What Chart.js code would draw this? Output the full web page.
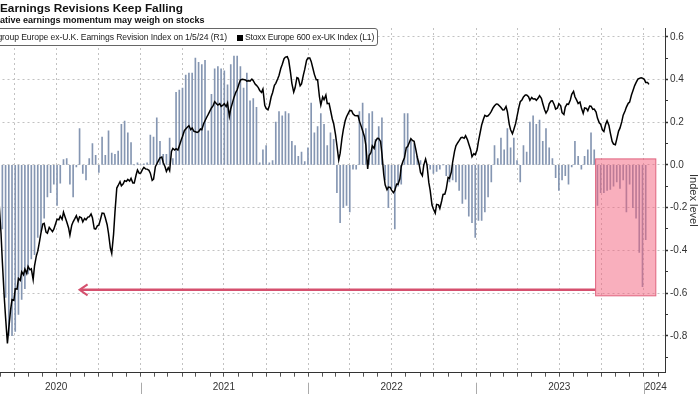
<!DOCTYPE html>
<html>
<head>
<meta charset="utf-8">
<script src="https://cdn.jsdelivr.net/npm/chart.js@4.4.1/dist/chart.umd.min.js"></script>
<style>
  html, body { margin: 0; padding: 0; background: #fff; width: 700px; height: 394px; overflow: hidden; }
  #wrap { position: relative; width: 700px; height: 394px; overflow: hidden; }
  #c { position: absolute; left: -40px; top: 0; }
  #title { position: absolute; left: 0; top: 1px; font: bold 11.8px "Liberation Sans", Arial, sans-serif; color: #111; white-space: nowrap; }
  #subtitle { position: absolute; left: -17px; top: 15px; font: bold 9px "Liberation Sans", Arial, sans-serif; color: #111; white-space: nowrap; }
  #legend { position: absolute; left: -27px; top: 28px; width: 403px; height: 16px; border: 1px solid #666; border-radius: 3px; background: #fff;
            font: 8.6px "Liberation Sans", Arial, sans-serif; letter-spacing: -0.2px; color: #222; line-height: 16px; white-space: nowrap; }
  #legend .item { position: absolute; top: 0; }
  #leg1 { right: 150px; letter-spacing: -0.1px; }
  #leg2 { left: 263px; }
  #legend .sw { display: inline-block; width: 6px; height: 6px; margin-right: 2px; vertical-align: -0.5px; }
</style>
</head>
<body>
<div id="wrap">
  <canvas id="c" width="740" height="394"></canvas>
  <div id="title">Earnings Revisions Keep Falling</div>
  <div id="subtitle">Negative earnings momentum may weigh on stocks</div>
  <div id="legend">
    <span class="item" id="leg1"><i class="sw" style="background:#8194b0"></i>Citigroup Europe ex-U.K. Earnings Revision Index on 1/5/24 (R1)</span>
    <span class="item" id="leg2"><i class="sw" style="background:#000"></i>Stoxx Europe 600 ex-UK Index (L1)</span>
  </div>
</div>
<script>
// weekly observations: Fridays starting 2020-01-03; the index line also has the Tuesday close after each Friday
const firstWeek = '2020-01-03';

// Citigroup Europe ex-U.K. Earnings Revision Index (R1), Fridays
const revision = [
  -0.04, -0.05, -0.06, -0.05, -0.04, -0.03, -0.05, -0.07, -0.12, -0.30,
  -0.62, -0.80, -0.80, -0.78, -0.70, -0.63, -0.58, -0.51, -0.44, -0.42,
  -0.34, -0.31, -0.25, -0.15, -0.13, -0.09, -0.19, -0.085, 0.025, 0.03,
  -0.09, -0.15, -0.01, 0.17, -0.04, -0.07, 0.03, 0.10, 0.045, -0.035,
  0.13, 0.045, 0.16, 0.055, 0.05, 0.065, 0.19, 0.205, 0.15, 0.105,
  0.0, 0.01, 0.0, 0.005, 0.01, 0.14, 0.13, 0.22, 0.11, 0.05,
  0.05, 0.125, 0.03, 0.34, 0.35, 0.36, 0.42, 0.43, 0.43, 0.50,
  0.48, 0.47, 0.49, 0.16, 0.33, 0.45, 0.46, 0.45, 0.44, 0.375,
  0.47, 0.51, 0.51, 0.46, 0.36, 0.43, 0.30, 0.31, 0.27, 0.01,
  0.07, 0.09, 0.01, 0.02, 0.20, 0.25, 0.23, 0.25, 0.24, 0.11,
  0.09, 0.04, 0.06, 0.015, 0.08, 0.29, 0.15, 0.18, 0.24, 0.19,
  0.09, 0.15, 0.12, -0.13, -0.27, -0.20, -0.19, -0.22, -0.02, -0.02,
  0.25, 0.29, 0.17, 0.24, 0.25, 0.12, 0.18, 0.22, -0.07, -0.20,
  -0.11, -0.30, -0.10, -0.09, 0.24, 0.24, 0.12, 0.10, 0.04, 0.02,
  0.0, 0.0, -0.02, -0.04, -0.03, -0.02, 0.0, -0.05, -0.08, -0.07,
  -0.08, -0.12, -0.18, -0.16, -0.24, -0.27, -0.34, -0.26, -0.26, -0.22,
  -0.15, -0.08, 0.09, 0.03, 0.125, 0.07, 0.17, 0.08, 0.125, 0.02,
  -0.08, 0.09, 0.06, 0.20, 0.23, 0.19, 0.21, 0.11, 0.17, 0.08,
  0.03, -0.06, -0.12, -0.07, -0.05, -0.09, -0.01, 0.11, 0.04, -0.02,
  0.04, 0.07, 0.15, 0.07, -0.19, -0.13, -0.13, -0.12, -0.115, -0.10,
  -0.08, -0.11, -0.07, -0.22, -0.09, -0.20, -0.25, -0.41, -0.57, -0.35
];

// Stoxx Europe 600 ex-UK Index (L1), Friday closes
const stoxxFri = [
  417, 420, 418, 421, 425, 427, 430, 426, 384, 340.4,
  299.0, 291.2, 312.4, 320.5, 328.2, 333.2, 335.2, 337.2, 335.4, 337.7,
  348.6, 362.3, 369.3, 362.0, 365.0, 365.0, 372.5, 374.7, 377.7, 370.5,
  360.6, 370.5, 375.0, 374.2, 370.5, 372.0, 374.2, 373.5, 365.0, 368.0,
  377.0, 373.5, 361.8, 346.9, 377.5, 397.6, 397.4, 401.1, 402.1, 402.9,
  399.4, 409.1, 406.8, 411.1, 409.8, 406.8, 402.4, 413.6, 418.3, 414.8,
  408.1, 408.6, 425.2, 425.0, 427.0, 434.2, 439.7, 442.2, 440.4, 437.7,
  437.7, 439.2, 445.9, 450.6, 455.4, 460.1, 457.6, 456.6, 458.6, 459.1,
  454.9, 463.3, 469.0, 476.2, 476.7, 475.5, 475.5, 475.8, 472.3, 468.5,
  469.5, 455.1, 457.1, 466.8, 473.8, 479.7, 487.9, 493.4, 491.2, 473.8,
  470.5, 477.5, 473.3, 484.2, 492.7, 490.2, 480.5, 476.5, 457.6, 461.6,
  458.6, 453.9, 443.7, 427.5, 421.5, 439.2, 448.9, 453.6, 451.1, 449.6,
  445.6, 438.4, 427.7, 420.0, 427.2, 430.5, 432.7, 421.3, 398.1, 396.4,
  394.1, 393.9, 398.4, 411.8, 418.3, 426.7, 432.5, 430.5, 418.5, 407.3,
  412.8, 413.1, 393.9, 380.0, 383.5, 380.5, 390.9, 395.1, 402.9, 415.3,
  427.2, 431.0, 433.5, 434.7, 428.5, 419.0, 420.5, 430.5, 442.7, 449.9,
  449.6, 452.9, 457.1, 458.3, 455.8, 454.1, 452.6, 439.2, 439.4, 449.1,
  460.1, 463.6, 465.1, 461.1, 462.1, 461.1, 464.6, 458.8, 451.6, 458.6,
  460.8, 454.6, 458.6, 451.9, 456.1, 458.1, 465.6, 463.8, 458.8, 455.6,
  455.4, 453.4, 456.8, 454.6, 447.9, 443.2, 437.9, 445.9, 436.9, 428.5,
  432.2, 440.4, 450.1, 456.1, 459.8, 468.0, 474.3, 477.5, 477.7, 474.5,
  473.0
];

// Stoxx Europe 600 ex-UK Index (L1), Tuesday closes (4 days after each Friday)
const stoxxTue = [
  418, 419, 420, 423, 426, 428, 429, 407, 362.3, 314.8,
  279.7, 305.1, 311.8, 320.3, 326.8, 331.0, 332.0, 334.7, 327.3, 345.2,
  356.1, 368.8, 362.8, 366.3, 363.1, 369.3, 372.0, 372.3, 373.5, 366.1,
  368.0, 373.0, 371.0, 373.5, 373.0, 374.0, 376.3, 365.3, 367.6, 373.0,
  376.8, 368.3, 350.9, 361.3, 395.7, 400.4, 398.9, 400.6, 400.9, 399.4,
  405.4, 406.6, 409.6, 409.9, 408.9, 401.4, 411.6, 416.3, 418.8, 411.6,
  410.8, 423.0, 424.0, 424.0, 431.3, 438.5, 441.2, 439.2, 438.0, 437.2,
  439.7, 443.7, 448.7, 453.4, 457.4, 458.6, 458.6, 457.6, 456.4, 449.2,
  459.6, 467.1, 473.5, 476.8, 476.3, 475.8, 477.0, 473.3, 470.6, 467.1,
  457.4, 454.1, 463.8, 472.3, 477.0, 485.0, 492.2, 493.7, 482.0, 467.3,
  478.0, 472.0, 480.0, 491.0, 492.7, 484.7, 476.5, 463.8, 463.6, 465.1,
  458.9, 447.2, 435.5, 416.6, 432.8, 445.9, 451.6, 453.4, 449.7, 449.7,
  441.7, 434.0, 409.9, 422.0, 425.3, 432.8, 430.5, 405.6, 394.4, 396.2,
  392.2, 398.6, 402.6, 415.8, 425.8, 430.0, 431.0, 424.0, 413.3, 404.9,
  417.3, 399.9, 383.0, 377.0, 383.2, 386.0, 391.2, 403.6, 407.6, 423.0,
  429.5, 433.2, 432.8, 431.8, 424.3, 421.3, 424.0, 437.5, 447.2, 449.2,
  451.2, 455.6, 458.4, 456.9, 453.9, 456.6, 443.4, 436.2, 443.9, 455.9,
  461.6, 465.1, 463.8, 463.3, 462.3, 462.8, 462.6, 454.1, 454.1, 460.6,
  457.9, 455.4, 457.1, 450.6, 458.4, 461.4, 467.8, 461.1, 459.9, 451.4,
  455.1, 456.9, 454.4, 452.4, 444.4, 438.9, 443.4, 442.4, 430.5, 428.0,
  438.2, 445.2, 453.1, 458.9, 465.1, 472.1, 477.0, 478.0, 476.8, 474.5
];

// axis labels
const yearLabels = ['2020', '2021', '2022', '2023', '2024'];
const yearLabelDates = ['2020-07-01', '2021-07-01', '2022-07-01', '2023-07-01', '2024-01-27'];
const yearStarts = ['2021-01-01', '2022-01-01', '2023-01-01', '2024-01-01'];
const rightTicks = [-0.9, -0.8, -0.7, -0.6, -0.5, -0.4, -0.3, -0.2, -0.1, 0, 0.1, 0.2, 0.3, 0.4, 0.5, 0.6];

// highlight box + arrow (in data units)
const boxFrom = '2023-09-18', boxTo = '2024-01-27', boxTop = 0.028, boxBottom = -0.613;
const arrowLevel = -0.585, arrowTip = '2020-08-21';

const DAY = 86400000;
const t0 = Date.parse(firstWeek);
const weekAt = i => t0 + i * 7 * DAY;

// merge Friday and Tuesday closes in date order
const stoxxPoints = [];
stoxxFri.forEach((v, i) => {
  stoxxPoints.push({ x: weekAt(i), y: v });
  if (i < stoxxTue.length) stoxxPoints.push({ x: weekAt(i) + 4 * DAY, y: stoxxTue[i] });
});

const labelAt = new Map(yearLabelDates.map((d, i) => [Date.parse(d), yearLabels[i]]));
const isMajor = v => Math.abs(Math.round(v * 10)) % 2 === 0;

const FONT = "'Liberation Sans Narrow', 'Liberation Sans', Arial, sans-serif";

const extras = {
  id: 'extras',
  afterDatasetsDraw(chart) {
    const { ctx, scales: { x, y } } = chart;
    const x1 = x.getPixelForValue(Date.parse(boxFrom));
    const x2 = x.getPixelForValue(Date.parse(boxTo));
    const y1 = y.getPixelForValue(boxTop);
    const y2 = y.getPixelForValue(boxBottom);
    ctx.save();
    // arrow
    const ay = y.getPixelForValue(arrowLevel);
    const ax = x.getPixelForValue(Date.parse(arrowTip));
    ctx.strokeStyle = '#d5506e';
    ctx.lineWidth = 2.5;
    ctx.beginPath();
    ctx.moveTo(x1, ay);
    ctx.lineTo(ax + 1, ay);
    ctx.stroke();
    ctx.lineWidth = 2;
    ctx.beginPath();
    ctx.moveTo(ax + 8, ay - 5.5);
    ctx.lineTo(ax, ay);
    ctx.lineTo(ax + 8, ay + 5.5);
    ctx.stroke();
    // pink box
    ctx.fillStyle = 'rgba(244, 96, 124, 0.5)';
    ctx.fillRect(x1, y1, x2 - x1, y2 - y1);
    ctx.strokeStyle = '#e0647f';
    ctx.lineWidth = 1;
    ctx.strokeRect(x1, y1, x2 - x1, y2 - y1);
    ctx.restore();
  },
  afterDraw(chart) {
    const { ctx, scales: { x } } = chart;
    ctx.save();
    ctx.strokeStyle = '#aaa';
    ctx.lineWidth = 1;
    yearStarts.forEach(d => {
      const px = Math.round(x.getPixelForValue(Date.parse(d))) + 0.5;
      ctx.beginPath();
      ctx.moveTo(px, x.top + 10);
      ctx.lineTo(px, x.bottom);
      ctx.stroke();
    });
    ctx.restore();
  }
};

new Chart(document.getElementById('c'), {
  type: 'line',
  data: {
    datasets: [
      {
        type: 'line',
        label: 'Stoxx Europe 600 ex-UK Index (L1)',
        data: stoxxPoints,
        yAxisID: 'yL',
        borderColor: '#000',
        borderWidth: 1.5,
        pointRadius: 0,
        tension: 0,
        order: 0,
      },
      {
        type: 'bar',
        label: 'Citigroup Europe ex-U.K. Earnings Revision Index on 1/5/24 (R1)',
        data: revision.map((v, i) => ({ x: weekAt(i), y: v })),
        yAxisID: 'y',
        backgroundColor: '#8596b2',
        barThickness: 1,
        order: 1,
      },
    ],
  },
  options: {
    responsive: false,
    animation: false,
    devicePixelRatio: 1,
    layout: { padding: { left: 12.5, top: 28, right: 0, bottom: 0 } },
    plugins: { legend: { display: false }, tooltip: { enabled: false } },
    scales: {
      x: {
        type: 'linear',
        min: Date.UTC(2020, 0, 1),
        max: Date.UTC(2024, 1, 16),
        offset: false,
        afterBuildTicks: s => {
          const t = [];
          for (let yr = 2020; yr <= 2024; yr++) {
            for (let m = 0; m < 12; m++) {
              const v = Date.UTC(yr, m, 1);
              if (v >= s.min && v <= s.max) t.push({ value: v });
            }
          }
          labelAt.forEach((_, v) => { if (!t.some(k => k.value === v)) t.push({ value: v, extra: true }); });
          t.sort((a, b) => a.value - b.value);
          s.ticks = t;
        },
        afterFit: s => { s.height = 21.3; },
        grid: {
          offset: false,
          color: c => {
            if (!c.tick || c.tick.extra) return 'transparent';
            const m = new Date(c.tick.value).getUTCMonth();
            return m % 3 === 0 ? '#c2c2c2' : 'transparent';
          },
          tickColor: c => (c.tick && c.tick.extra ? 'transparent' : '#555'),
          tickLength: 4,
        },
        border: { color: '#333', width: 1, dash: [2, 3] },
        ticks: {
          autoSkip: false, maxRotation: 0, minRotation: 0,
          padding: 5, color: '#333',
          font: { family: FONT, size: 10 },
          callback: v => labelAt.get(v) || '',
        },
      },
      y: {
        position: 'right',
        min: -0.973,
        max: 0.641,
        afterBuildTicks: s => { s.ticks = rightTicks.map(v => ({ value: v })); },
        afterFit: s => { s.width = 35; },
        grid: {
          color: c => (c.tick && isMajor(c.tick.value) ? '#c2c2c2' : 'transparent'),
          tickColor: '#333',
          tickLength: 3,
          tickWidth: c => (c.tick && isMajor(c.tick.value) ? 1.5 : 1),
        },
        border: { color: '#333', width: 1, dash: [2, 3] },
        ticks: {
          padding: 2, color: '#333',
          font: { family: FONT, size: 10 },
          callback: v => (isMajor(v) ? v.toFixed(1) : ''),
        },
        title: {
          display: true, text: 'Index level', color: '#333',
          font: { family: FONT, size: 11 },
          padding: { top: 0, bottom: 0 },
        },
      },
      yL: {
        display: false,
        position: 'left',
        min: 257.9,
        max: 515.1,
      },
    },
  },
  plugins: [extras],
});
</script>
</body>
</html>
